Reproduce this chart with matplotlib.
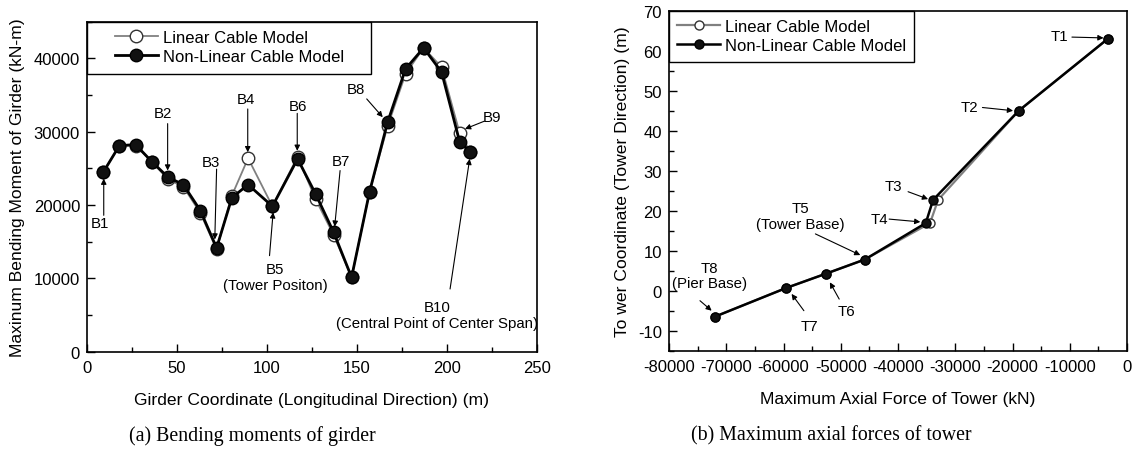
import matplotlib
matplotlib.use('Agg')
import matplotlib.pyplot as plt
from matplotlib.patches import Rectangle
from matplotlib.ticker import MultipleLocator

plt.rcParams['font.family'] = 'Liberation Sans'
plt.rcParams['font.size'] = 12
plt.rcParams['axes.labelsize'] = 12.6
plt.rcParams['axes.unicode_minus'] = False

# girder: maximum bending moment along the girder (kN-m)
girder_x = [9, 18, 27, 36, 45, 53.5, 63, 72, 80.5, 89.5, 103, 117, 127, 137, 147,
            157, 167, 177, 187, 197, 207, 213]
moment_linear = [24470, 28100, 28100, 25920, 23500, 22500, 18900, 13950, 21300, 26380,
                 19830, 26600, 20800, 15920, 10150, 21830, 30750, 37900, 41430, 38800,
                 29840, 27200]
moment_nonlinear = [24470, 28100, 28240, 25920, 23790, 22790, 19240, 14150, 21000, 22780,
                    19830, 26290, 21510, 16290, 10150, 21830, 31300, 38570, 41430, 38120,
                    28650, 27200]

# tower: maximum axial force (kN) against tower coordinate (m)
tower_coord = [-6.5, 0.7, 4.3, 7.8, 16.9, 22.7, 45.0, 63.0]
axial_linear = [-72000, -59500, -52500, -45800, -34400, -33000, -18900, -3330]
axial_nonlinear = [-72000, -59500, -52500, -45800, -35150, -33870, -18900, -3330]

# labels: text, text position, arrow start, arrow tip
girder_notes = [
    ('B1', (7.2, 17560), (9.3, 18600), (9.3, 23600)),
    ('B2', (42.4, 32520), (44.8, 31100), (44.8, 24700)),
    ('B3', (68.7, 25840), (72, 24900), (71, 15300)),
    ('B4', (88.3, 34460), (89.3, 33100), (89.3, 27200)),
    ('B5\n(Tower Positon)', (104.5, 10200), (101.4, 13100), (103.4, 19000)),
    ('B6', (117, 33560), (116.8, 32500), (116.8, 27400)),
    ('B7', (141, 26060), (140.6, 24700), (137.6, 17050)),
    ('B8', (149.4, 35840), (155.4, 34470), (164.3, 31980)),
    ('B9', (225.2, 31980), (220.7, 31430), (210, 30380)),
    ('B10\n(Central Point of Center Span)', (194.5, 5000), (201.7, 8550), (212.6, 26300)),
]
tower_notes = [
    ('T1', (-11760, 63.6), (-9620, 63.4), (-4100, 63.2)),
    ('T2', (-27470, 45.8), (-25250, 45.8), (-19900, 45.0)),
    ('T3', (-40850, 26.1), (-38240, 24.75), (-34750, 22.9)),
    ('T4', (-43180, 17.9), (-41550, 17.9), (-36100, 17.2)),
    ('T5\n(Tower Base)', (-57000, 18.7), (-54430, 14.2), (-46580, 8.9)),
    ('T6', (-49000, -5.0), (-50270, -2.1), (-51900, 2.1)),
    ('T7', (-55510, -8.75), (-56440, -5.0), (-58590, -0.8)),
    ('T8\n(Pier Base)', (-73000, 3.8), (-74590, -2.5), (-72550, -5.0)),
]

fig = plt.figure(figsize=(11.4, 4.52), dpi=100)
ax1 = fig.add_axes([87 / 1140, 1 - 352.7 / 452, 450 / 1140, 330 / 452])
ax2 = fig.add_axes([669 / 1140, 1 - 351.7 / 452, 458 / 1140, 340 / 452])

arrow = dict(arrowstyle='-|>', color='black', lw=0.8, mutation_scale=8,
             shrinkA=0, shrinkB=0)


def style_axes(ax):
    for s in ax.spines.values():
        s.set_linewidth(1.2)
    ax.tick_params(which='both', direction='in', top=False, right=False, width=1)
    ax.tick_params(which='major', length=6)
    ax.tick_params(which='minor', length=3.5)
    ax.tick_params(axis='x', pad=6)
    ax.tick_params(axis='y', pad=5)


# (a) girder bending moments
ax1.plot(girder_x, moment_linear, color='#808080', lw=1.3, marker='o', ms=9,
         mfc='white', mec='#333333', mew=1, label='Linear Cable Model', zorder=2)
ax1.plot(girder_x, moment_nonlinear, color='black', lw=2, marker='o', ms=9,
         mfc='#111111', mec='black', label='Non-Linear Cable Model', zorder=3)
ax1.set_xlim(0, 250)
ax1.set_ylim(0, 45000)
ax1.xaxis.set_major_locator(MultipleLocator(50))
ax1.xaxis.set_minor_locator(MultipleLocator(25))
ax1.yaxis.set_major_locator(MultipleLocator(10000))
ax1.yaxis.set_minor_locator(MultipleLocator(5000))
style_axes(ax1)
ax1.set_xlabel('Girder Coordinate (Longitudinal Direction) (m)', labelpad=12)
ax1.set_ylabel('Maxinum Bending Moment of Girder (kN-m)', labelpad=6)
for text, pos, start, tip in girder_notes:
    ax1.text(pos[0], pos[1], text, ha='center', va='center', fontsize=10.8,
             linespacing=1.15)
    ax1.annotate('', xy=tip, xytext=start, arrowprops=arrow)
ax1.legend(loc='upper left', bbox_to_anchor=(19.7 / 450, 1), borderaxespad=0,
           frameon=False, borderpad=0.5, handlelength=2.55, handletextpad=0.3,
           labelspacing=0.25)
ax1.add_patch(Rectangle((0, 0.8406), 0.631, 0.1594, transform=ax1.transAxes,
                        fill=False, ec='black', lw=1, clip_on=False, zorder=4))

# (b) tower axial forces
ax2.plot(axial_linear, tower_coord, color='#808080', lw=1.6, marker='o', ms=6.5,
         mfc='white', mec='#333333', mew=1, label='Linear Cable Model', zorder=2)
ax2.plot(axial_nonlinear, tower_coord, color='black', lw=1.8, marker='o', ms=6.5,
         mfc='#111111', mec='black', label='Non-Linear Cable Model', zorder=3)
ax2.set_xlim(-80000, 0)
ax2.set_ylim(-15, 70)
ax2.xaxis.set_major_locator(MultipleLocator(10000))
ax2.xaxis.set_minor_locator(MultipleLocator(5000))
ax2.yaxis.set_major_locator(MultipleLocator(10))
ax2.yaxis.set_minor_locator(MultipleLocator(5))
style_axes(ax2)
ax2.set_xlabel('Maximum Axial Force of Tower (kN)', labelpad=12)
ax2.set_ylabel('To wer Coordinate (Tower Direction) (m)', labelpad=6)
for text, pos, start, tip in tower_notes:
    ax2.text(pos[0], pos[1], text, ha='center', va='center', fontsize=10.8,
             linespacing=1.15)
    ax2.annotate('', xy=tip, xytext=start, arrowprops=arrow)
leg = ax2.legend(loc='upper left', borderaxespad=0, fancybox=False, framealpha=1,
                 edgecolor='black', borderpad=0.5, handlelength=2.55,
                 handletextpad=0.3, labelspacing=0.25)
leg.get_frame().set_linewidth(1)

fig.text(252 / 1140, 1 - 436 / 452, '(a) Bending moments of girder',
         family='Liberation Serif', fontsize=14.3, ha='center', va='center')
fig.text(831 / 1140, 1 - 436 / 452, '(b) Maximum axial forces of tower',
         family='Liberation Serif', fontsize=14.3, ha='center', va='center')

fig.savefig('out.png', dpi=100)
